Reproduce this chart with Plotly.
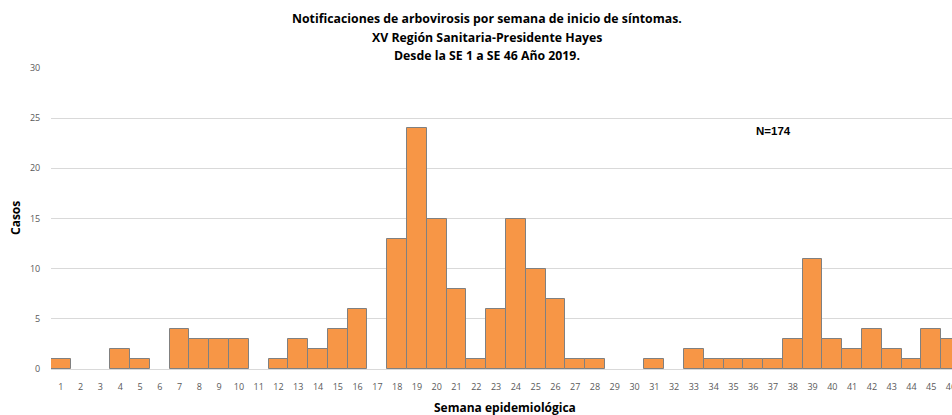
import plotly.graph_objects as go

semanas = list(range(1, 47))
casos = [1, 0, 0, 2, 1, 0, 4, 3, 3, 3,
         0, 1, 3, 2, 4, 6, 0, 13, 24, 15,
         8, 1, 6, 15, 10, 7, 1, 1, 0, 0,
         1, 0, 2, 1, 1, 1, 1, 3, 11, 3,
         2, 4, 2, 1, 4, 3]
tick_labels = [str(s) for s in semanas]
titulo_lineas = ["Notificaciones de arbovirosis por semana de inicio de síntomas.",
                 "XV Región Sanitaria-Presidente Hayes",
                 "Desde la SE 1 a SE 46 Año 2019."]
total_label = "N=174"
x_title = "Semana epidemiológica"
y_title = "Casos"

W, H = 952, 415
L, R, T, B = 51, 0, 68, 46
PW, PH = W - L - R, H - T - B

# zero-count weeks draw no bar (no outline line)
casos_plot = [c if c > 0 else None for c in casos]

fig = go.Figure(go.Bar(
    x=semanas, y=casos_plot,
    marker=dict(color="#F79646", line=dict(color="#808080", width=1)),
    width=1.0,
))

fig.update_layout(
    width=W, height=H,
    margin=dict(l=L, r=R, t=T, b=B),
    paper_bgcolor="white", plot_bgcolor="white",
    bargap=0,
    showlegend=False,
    font=dict(family="Open Sans, DejaVu Sans", color="#595959", size=9),
)
fig.update_xaxes(
    range=[0.5, 46.05], tickvals=semanas, ticktext=tick_labels,
    showgrid=False, showline=True, linecolor="#D9D9D9", linewidth=1,
    ticks="outside", ticklen=9, tickcolor="rgba(0,0,0,0)",
    tickfont=dict(size=9, color="#595959"),
    ticklabeloverflow="allow",
    automargin=False, zeroline=False,
)
fig.update_yaxes(
    range=[0, 30], dtick=5,
    showgrid=True, gridcolor="#D9D9D9", gridwidth=1,
    zeroline=False, showline=False,
    ticks="outside", ticklen=8, tickcolor="rgba(0,0,0,0)",
    tickfont=dict(size=9, color="#595959"),
    automargin=False,
)

def px_x(px):
    return (px - L) / PW

def px_y(py):
    return (H - B - py) / PH

for linea, yc in zip(titulo_lineas, [18, 37, 55]):
    fig.add_annotation(
        x=px_x(487), xref="x domain", y=px_y(yc), yref="y domain",
        text="<b>" + linea + "</b>", showarrow=False,
        xanchor="center", yanchor="middle", align="center",
        font=dict(family="Open Sans", size=12.3, color="#000000"),
    )
fig.add_annotation(
    x=px_x(773), xref="x domain", y=px_y(131), yref="y domain",
    text="<b>" + total_label + "</b>", showarrow=False,
    xanchor="center", yanchor="middle",
    font=dict(family="Liberation Sans, Arial", size=11.5, color="#000000"),
)
fig.add_annotation(
    x=px_x(505), xref="x domain", y=px_y(407), yref="y domain",
    text="<b>" + x_title + "</b>", showarrow=False,
    xanchor="center", yanchor="middle",
    font=dict(family="Open Sans", size=12, color="#000000"),
)
fig.add_annotation(
    x=px_x(15), xref="x domain", y=px_y(218), yref="y domain",
    text="<b>" + y_title + "</b>", showarrow=False, textangle=-90,
    xanchor="center", yanchor="middle",
    font=dict(family="Open Sans", size=12, color="#000000"),
)

fig.write_html(
    "out.html",
    config={"displayModeBar": False},
    post_script="document.body.style.margin='0';document.body.style.overflow='hidden';",
)
